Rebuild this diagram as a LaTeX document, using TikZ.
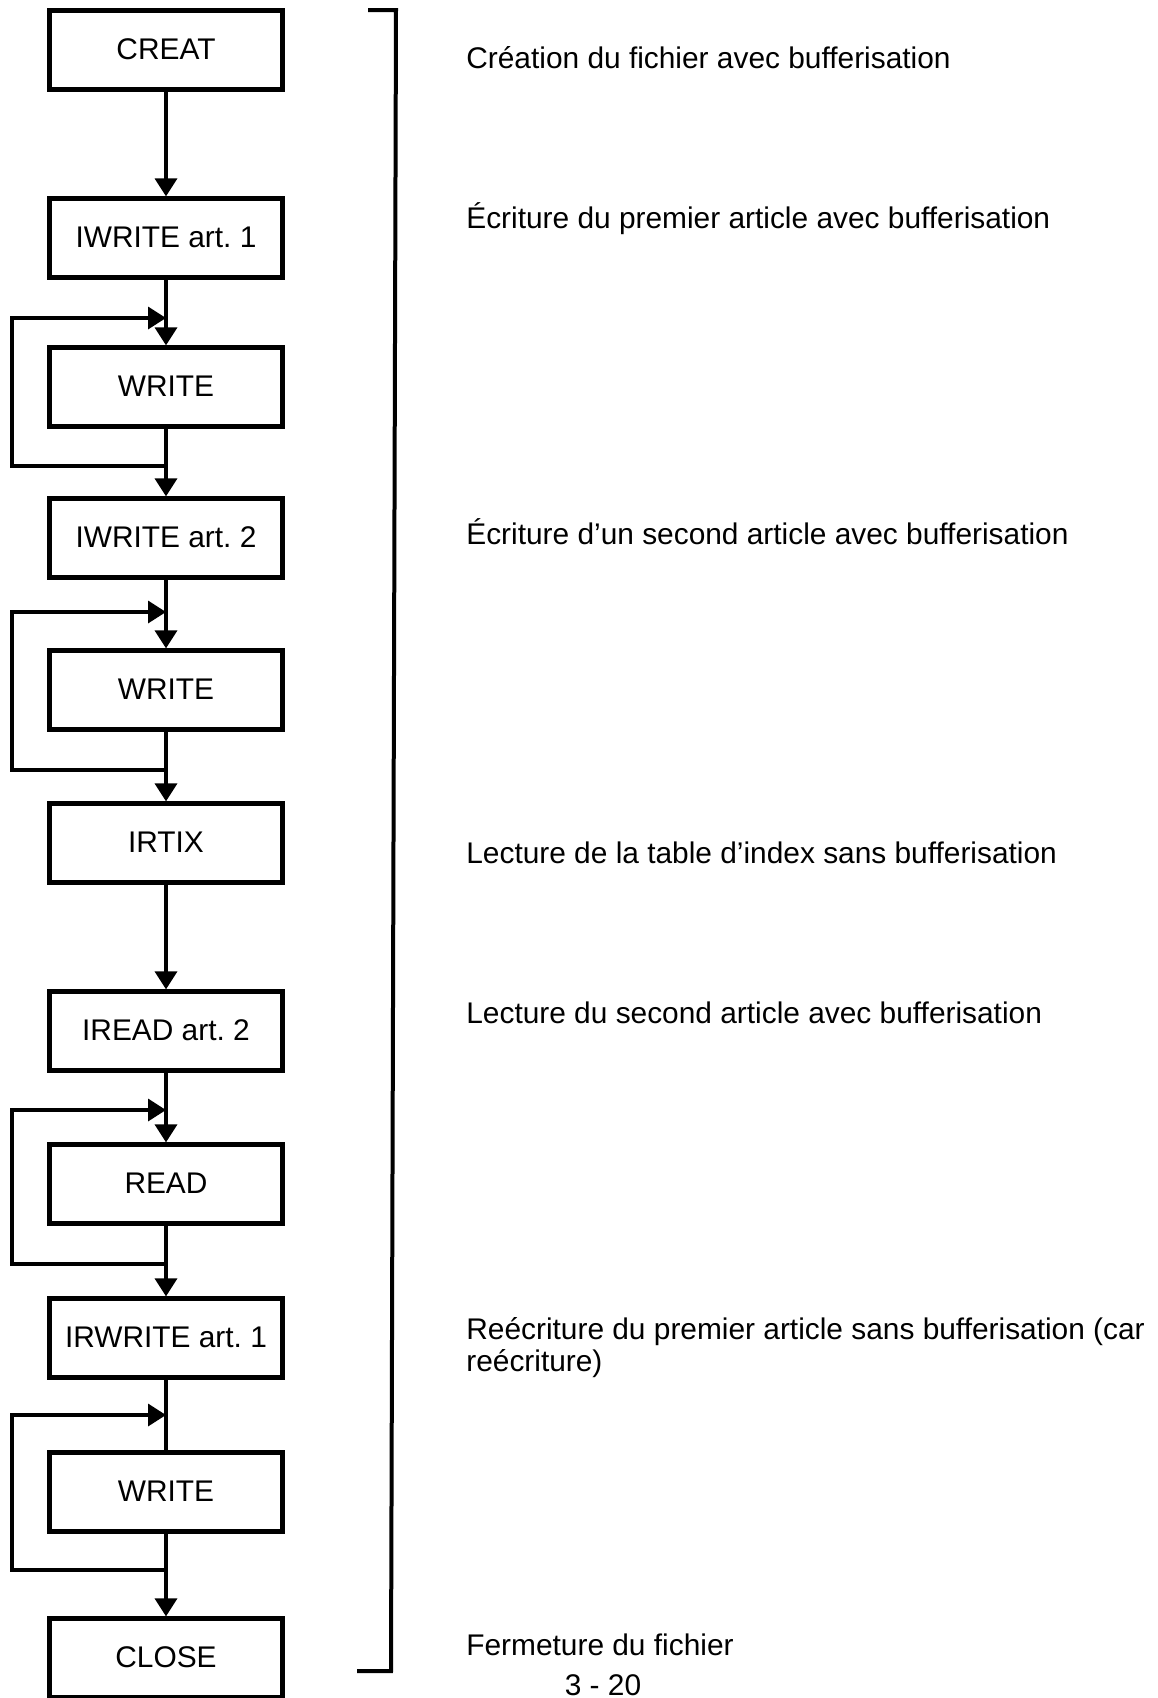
\documentclass[tikz,border=0pt]{standalone}
\usepackage{fontspec}
\setmainfont{Liberation Sans}
\usetikzlibrary{arrows.meta}

\begin{document}
\begin{tikzpicture}[x=0.02cm,y=-0.02cm,
  op/.style={draw,line width=0.085cm,minimum width=4.66cm,minimum height=1.58cm,inner sep=1pt,font=\fontsize{17}{20}\selectfont},
  cmt/.style={anchor=base west,align=left,inner sep=0pt,font=\fontsize{17}{18.2}\selectfont},
  wire/.style={line width=0.07cm},
  flow/.style={wire,-{Triangle[width=0.44cm,length=0.36cm]}},
  every node/.append style={text depth=0.25ex}]
\useasboundingbox (0,0) rectangle (1157,1698);
\foreach \nm/\yy/\txt in {creat/50/CREAT, iw1/238/IWRITE art.~1, wr1/387/WRITE, iw2/538/IWRITE art.~2,
  wr2/690/WRITE, irtix/843/IRTIX, ird2/1031/IREAD art.~2, rd/1184/READ, irw1/1338/IRWRITE art.~1,
  wr3/1492/WRITE, close/1658/CLOSE} { \node[op] (\nm) at (166,\yy) {\txt}; }
\foreach \a/\b in {creat/iw1, iw1/wr1, wr1/iw2, iw2/wr2, wr2/irtix, irtix/ird2, ird2/rd, rd/irw1, wr3/close}
  { \draw[flow] (\a) -- (\b); }
\draw[wire] (irw1) -- (wr3);
\foreach \k/\ya/\yb in {1/318/466, 2/612/770, 3/1110/1264, 4/1415/1570} {
  \coordinate (t\k) at (166,\ya);
  \coordinate (b\k) at (166,\yb);
  \draw[flow] (b\k) -- ++(-154,0) |- (t\k);
}
\draw[line width=0.08cm] (368,10) -- (396,10) -- (391,1671) -- (357,1671);
\node[cmt] (c1) at (466,68) {Création du fichier avec bufferisation};
\node[cmt] (c2) at (466,228) {Écriture du premier article avec bufferisation};
\node[cmt] (c3) at (466,544) {Écriture d'un second article avec bufferisation};
\node[cmt] (c4) at (466,863) {Lecture de la table d'index sans bufferisation};
\node[cmt] (c5) at (466,1023) {Lecture du second article avec bufferisation};
\node[cmt] (c6) at (466,1371) {Reécriture du premier article sans bufferisation (car\\reécriture)};
\node[cmt] (c7) at (466,1655) {Fermeture du fichier};
\node[cmt,anchor=base] (pg) at (603,1695) {3 - 20};
\end{tikzpicture}
\end{document}
